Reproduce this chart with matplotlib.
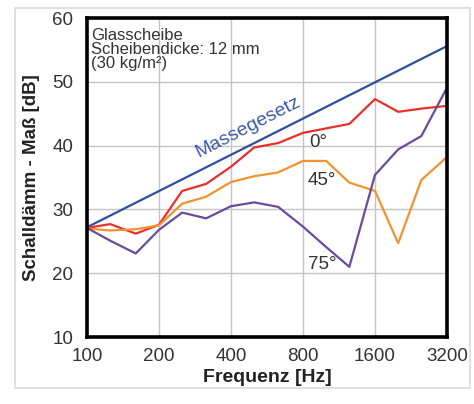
import numpy as np
import matplotlib
matplotlib.use("Agg")
import matplotlib.pyplot as plt
from matplotlib.patches import Rectangle

plt.rcParams['font.family'] = ['Liberation Sans', 'DejaVu Sans']

# third-octave frequencies [Hz]
freq = [100, 125, 160, 200, 250, 315, 400, 500, 630, 800, 1000, 1250, 1600, 2000, 2500, 3150]

# sound reduction index [dB] for the three incidence angles
r_0 = [27.1, 27.7, 26.2, 27.6, 32.9, 34.0, 36.7, 39.7, 40.4, 42.0, 42.7, 43.4, 47.3, 45.3, 45.8, 46.2]
r_45 = [27.0, 26.7, 26.9, 27.5, 30.9, 32.0, 34.3, 35.2, 35.8, 37.6, 37.6, 34.2, 32.9, 24.7, 34.6, 38.0]
r_75 = [27.1, 25.1, 23.1, 26.8, 29.5, 28.6, 30.5, 31.1, 30.4, 27.3, 24.1, 21.0, 35.4, 39.4, 41.5, 48.6]

# mass law (straight line on log axis)
mass_freq = [100, 3200]
mass_val = [27.2, 55.6]

xticks = [100, 200, 400, 800, 1600, 3200]
yticks = [10, 20, 30, 40, 50, 60]

fig = plt.figure(figsize=(4.74, 4.04), dpi=100)
ax = fig.add_axes([0.1835, 0.1658, 0.7595, 0.7896])

# light outer frame
fig.patches.append(Rectangle((15 / 474, 1 - 388 / 404), 455 / 474, 380 / 404,
                             transform=fig.transFigure, fill=False,
                             edgecolor="#dcdcdc", lw=1.2))

ax.semilogx(mass_freq, mass_val, color="#2f4f9e", lw=1.6)
ax.semilogx(freq, r_0, color="#e8302c", lw=1.6)
ax.semilogx(freq, r_45, color="#f39230", lw=1.6)
ax.semilogx(freq, r_75, color="#6a4b9c", lw=1.6)

ax.set_xlim(100, 3200)
ax.set_ylim(10, 60)
ax.set_xticks(xticks)
ax.set_xticklabels([str(t) for t in xticks])
ax.minorticks_off()
ax.set_yticks(yticks)
ax.tick_params(length=0, labelsize=13.5, colors="#333333")
ax.tick_params(axis="x", pad=8)
ax.tick_params(axis="y", pad=10)
ax.grid(True, color="#c4c4c4", lw=1)
ax.set_axisbelow(True)
for s in ax.spines.values():
    s.set_linewidth(2.6)
    s.set_color("black")

ax.set_xlabel("Frequenz [Hz]", fontsize=14, fontweight="bold", color="#222222", labelpad=3)
ax.set_ylabel("Schalldämm - Maß [dB]", fontsize=13.5, fontweight="bold", color="#222222", labelpad=9)

ax.text(104, 58.5, "Glasscheibe\nScheibendicke: 12 mm\n(30 kg/m²)", fontsize=12,
        color="#333333", va="top", ha="left", linespacing=0.95)
ax.text(470, 42.9, "Massegesetz", fontsize=14, color="#3a5aa8", rotation=27,
        ha="center", va="center")
ax.text(930, 40.5, "0°", fontsize=13.5, color="#333333", ha="center", va="center")
ax.text(960, 34.6, "45°", fontsize=13.5, color="#333333", ha="center", va="center")
ax.text(960, 21.3, "75°", fontsize=13.5, color="#333333", ha="center", va="center")

fig.savefig("out.png", dpi=100)
